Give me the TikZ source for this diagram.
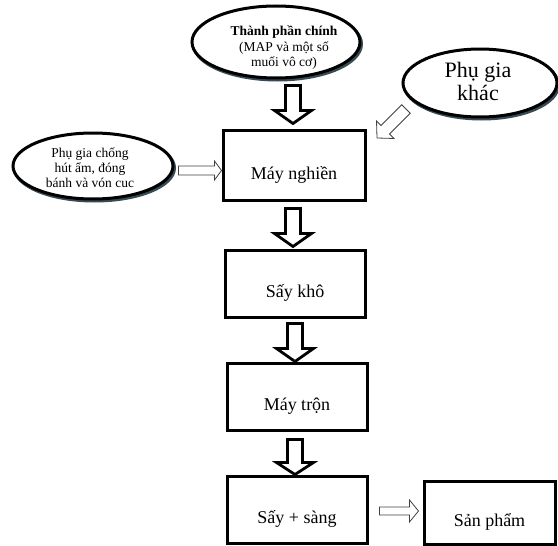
\documentclass[tikz,border=0pt]{standalone}
\usepackage{fontspec}
\setmainfont{Liberation Serif}
\usetikzlibrary{calc,shapes.geometric}
\tikzset{
  procbox/.style={draw=black, line width=3pt, fill=white, inner sep=0pt,
    minimum width=140pt, minimum height=67pt, text height=28pt, text depth=0pt,
    font=\fontsize{18}{21}\selectfont},
  boxshadow/.style={draw={rgb,255:red,205;green,175;blue,175}, line width=1.2pt},
  ovalnode/.style={ellipse, draw=black, line width=3pt, fill=white, inner sep=0pt},
  ovalshadow/.style={ellipse, draw={rgb,255:red,55;green,75;blue,85}, line width=3pt, inner sep=0pt},
  ovaltext/.style={align=center, inner sep=0pt},
  thickarrow/.style={line width=2.8pt, draw=black},
  thinarrow/.style={line width=0.8pt, draw=black!75},
  pics/barrow/.style n args={4}{code={
    \draw[fill=white, line join=miter, pic actions]
      (0,-#2) -- ({#1-#4},-#2) -- ({#1-#4},-#3) -- (#1,0) -- ({#1-#4},#3) -- ({#1-#4},#2) -- (0,#2) -- cycle;}},
}
\begin{document}
\begin{tikzpicture}[x=1pt,y=-1pt]
\useasboundingbox (0,0) rectangle (558,546);

% ellipses (shadow first)
\node[ovalshadow, minimum width=168pt, minimum height=72pt] (e1s) at (277.5,44) {};
\node[ovalnode, minimum width=168pt, minimum height=72pt] (e1) at (276,42) {};
\node[ovaltext, font=\fontsize{13.5}{15.5}\selectfont] (t1) at (284,48)
  {{\bfseries Thành phần chính}\\(MAP và một số\\muối vô cơ)};

\node[ovalshadow, minimum width=154pt, minimum height=68pt] (e2s) at (481.5,85) {};
\node[ovalnode, minimum width=154pt, minimum height=68pt] (e2) at (480,83) {};
\node[ovaltext, font=\fontsize{22}{23}\selectfont] (t2) at (478,81) {Phụ gia\\khác};

\node[ovalshadow, minimum width=160pt, minimum height=66pt] (e3s) at (94.5,168) {};
\node[ovalnode, minimum width=160pt, minimum height=66pt] (e3) at (93,166) {};
\node[ovaltext, font=\fontsize{13.5}{15}\selectfont] (t3) at (90,168)
  {Phụ gia chống\\hút ẩm, đóng\\bánh và vón cuc};

% boxes
\draw[boxshadow] (366.5,132) -- (366.5,201.5) -- (225,201.5);
\node[procbox, minimum width=142pt, minimum height=70pt] (b1) at (294,165) {Máy nghiền};
\draw[boxshadow] (366.5,252) -- (366.5,318.5) -- (227,318.5);
\node[procbox] (b2) at (295,283.5) {Sấy khô};
\draw[boxshadow] (368.5,365) -- (368.5,431.5) -- (229,431.5);
\node[procbox] (b3) at (297,396.5) {Máy trộn};
\node[procbox] (b4) at (297,509.5) {Sấy + sàng};
\node[procbox, minimum width=131pt, minimum height=63pt] (b5) at (489.5,512.5) {Sản phẩm};

% thick block arrows
\pic[thickarrow, rotate=-90] at ($(b1.north)+(-1,-43)$) {barrow={38}{7.5}{18.5}{13}};
\pic[thickarrow, rotate=-90] at ($(b1.south)+(-1,7)$) {barrow={38}{7.5}{18.5}{13}};
\pic[thickarrow, rotate=-90] at ($(b2.south)+(0,5)$) {barrow={38}{7.5}{18.5}{13}};
\pic[thickarrow, rotate=-90] at ($(b3.south)+(-2,8)$) {barrow={35}{7.5}{18.5}{12}};

% thin hollow arrows
\pic[thinarrow] at ($(e3.east)+(4,4.5)$) {barrow={43}{4.5}{9.5}{7}};
\pic[thinarrow] at ($(b4.east)+(11,1.5)$) {barrow={39}{4}{11}{9}};
\pic[thinarrow, rotate=-135] at ($(e2.center)+(-74,26)$) {barrow={41}{6}{12.4}{11.7}};
\end{tikzpicture}
\end{document}
